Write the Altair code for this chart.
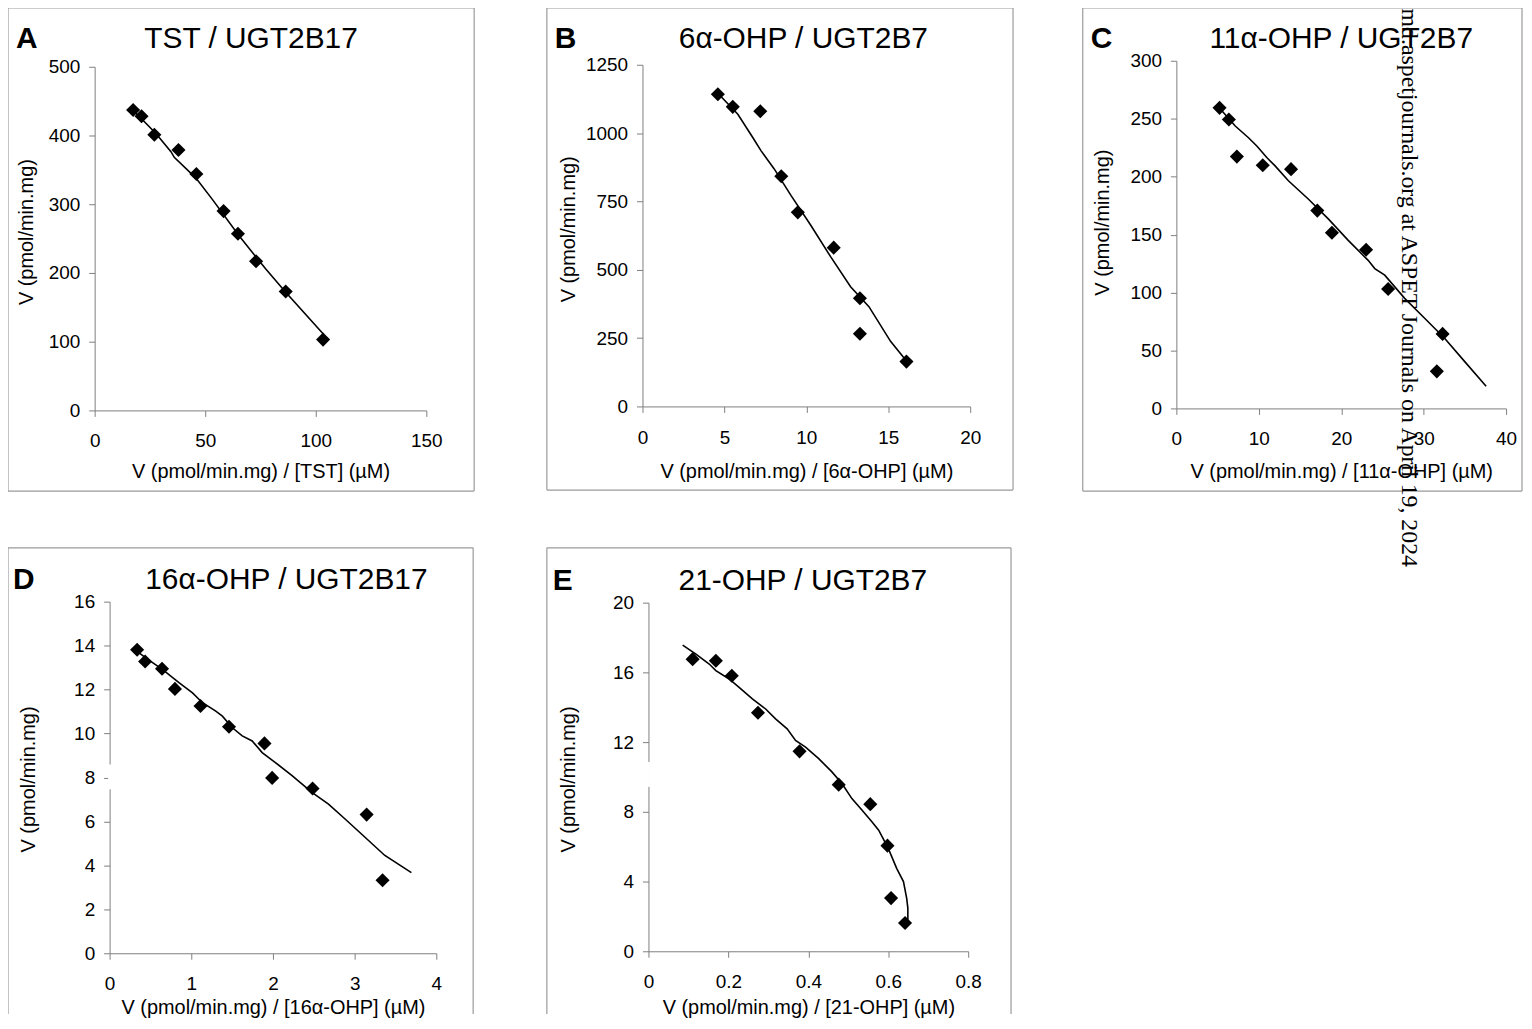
import altair as alt
import pandas as pd

FONT = "Liberation Sans"

# ---------------- data ----------------
# A  TST / UGT2B17
a_x = [17.4, 21.2, 27.0, 37.9, 46.0, 58.3, 64.8, 73.0, 86.4, 103.3]
a_y = [437, 428, 401, 379, 344, 290, 257, 217, 173, 103]
a_fit_x = [17.2, 27.7, 34.5, 36.0, 45.8, 53.3, 65.3, 77.3, 86.4, 103.7]
a_fit_y = [437.5, 403, 376.5, 368.3, 338, 306.7, 254, 206, 172, 110]

# B  6a-OHP / UGT2B7
b_x = [4.60, 5.51, 7.19, 8.47, 9.48, 11.67, 13.27, 13.27, 16.11]
b_y = [1142, 1096, 1080, 842, 710, 581, 396, 266, 164]
b_fit_x = [4.6, 5.82, 6.73, 7.23, 8.04, 9.06, 10.27, 11.49, 12.70, 13.82, 15.14, 16.05]
b_fit_y = [1146, 1069, 984, 936, 869, 772, 663, 547, 438, 365, 238, 171]

# C  11a-OHP / UGT2B7
c_x = [5.24, 6.37, 7.34, 10.48, 13.91, 17.10, 18.87, 23.02, 25.69, 32.3, 31.6]
c_y = [259.4, 249.4, 217.3, 209.9, 206.5, 170.7, 151.6, 137.0, 103.0, 64.3, 32.0]
c_fit_x = [5.12, 7.14, 8.75, 9.76, 10.97, 11.98, 13.59, 16.0, 18.43, 20.85, 23.27,
           24.07, 25.28, 27.7, 30.12, 32.54, 34.96, 37.58]
c_fit_y = [260.2, 243.7, 233.6, 226.5, 216.5, 209.3, 196.5, 180.7, 163.6, 145.0, 127.8,
           120.7, 115.0, 95.0, 77.8, 60.6, 40.6, 19.2]

# D  16a-OHP / UGT2B17
d_x = [0.337, 0.435, 0.642, 0.80, 1.113, 1.462, 1.896, 1.99, 2.485, 3.147, 3.342]
d_y = [13.81, 13.28, 12.95, 12.03, 11.25, 10.31, 9.55, 7.98, 7.50, 6.31, 3.32]
d_fit_x = [0.284, 0.447, 0.650, 0.853, 1.015, 1.137, 1.30, 1.381, 1.503, 1.624, 1.746,
           1.868, 2.03, 2.234, 2.477, 2.68, 2.883, 3.127, 3.37, 3.695]
d_fit_y = [13.89, 13.43, 12.91, 12.30, 11.85, 11.40, 11.02, 10.79, 10.26, 9.89, 9.66,
           9.13, 8.68, 8.08, 7.32, 6.79, 6.11, 5.28, 4.45, 3.67]
d_break = [7.46, 8.59]

# E  21-OHP / UGT2B7
e_x = [0.1105, 0.1686, 0.2085, 0.274, 0.378, 0.476, 0.555, 0.598, 0.607, 0.642]
e_y = [16.76, 16.67, 15.81, 13.68, 11.47, 9.56, 8.44, 6.06, 3.05, 1.62]
e_fit_x = [0.0856, 0.1188, 0.152, 0.1686, 0.2019, 0.2268, 0.26, 0.2933, 0.318, 0.347,
           0.368, 0.393, 0.426, 0.459, 0.484, 0.509, 0.534, 0.559, 0.576, 0.60, 0.621,
           0.638, 0.646, 0.649, 0.649]
e_fit_y = [17.56, 17.05, 16.48, 16.10, 15.62, 15.14, 14.48, 13.90, 13.33, 12.76,
           12.10, 11.71, 11.05, 10.29, 9.62, 8.76, 8.10, 7.43, 6.95, 5.90, 4.76,
           4.0, 3.05, 2.48, 1.81]
e_break = [9.43, 10.86]

Y_TITLE = "V (pmol/min.mg)"
WATERMARK = "md.aspetjournals.org at ASPET Journals on April 19, 2024"

FRAME_COLOR = "#9a9a9a"


def one():
    return alt.Chart(pd.DataFrame({"k": [0]}))


def text(txt, x, y, size, weight="normal", align="left", font=FONT,
         angle=0, baseline="alphabetic"):
    return alt.Chart(pd.DataFrame({"t": [txt]})).mark_text(
        align=align, baseline=baseline, fontSize=size, fontWeight=weight,
        font=font, angle=angle, color="black"
    ).encode(x=alt.value(x), y=alt.value(y), text="t:N")


def spacer(x1, x2, y1, y2):
    return one().mark_rect(fill="transparent").encode(
        x=alt.value(x1), x2=alt.value(x2), y=alt.value(y1), y2=alt.value(y2))


def panel(px, py, fx, fy, xdom, ydom, xticks, yticks, xtitle, letter, title, g,
          brk=None):
    """g holds page-pixel geometry read off the reference; converted to
    coordinates relative to the panel's layout origin (ox, oy)."""
    ox, oy = g["origin"]
    pl, pt, w, h = g["plot"]
    dx, dy = pl - ox, pt - oy
    W, H = dx + w, dy + h
    fl, fr, ft, fb = [v - o for v, o in zip(g["frame"], (ox, ox, oy, oy))]

    pts = pd.DataFrame({"x": px, "y": py})
    fit = pd.DataFrame({"x": fx, "y": fy, "i": list(range(len(fx)))})
    xax = alt.Axis(values=xticks, title=xtitle, grid=False, tickSize=6, format="~f",
                   labelPadding=g["xlp"], titleY=g["xbase"] - (pt + h),
                   titleBaseline="alphabetic", labelFlush=False, labelOverlap=False)
    yopts = dict(values=yticks, title=Y_TITLE, grid=False, tickSize=6, format="~f",
                 labelPadding=9, titleX=g["ytr"] - pl, titleY=g["ytc"] - oy,
                 titleAlign="center", titleBaseline="bottom",
                 labelFlush=False, labelOverlap=False)
    if dx:
        yopts["offset"] = -dx
    yax = alt.Axis(**yopts)
    xs = alt.Scale(domain=xdom, range=[dx, W], nice=False, zero=False)
    ys = alt.Scale(domain=ydom, range=[H, dy], nice=False, zero=False)

    def X(f):
        return alt.X(f, type="quantitative", scale=xs, axis=xax)

    def Y(f):
        return alt.Y(f, type="quantitative", scale=ys, axis=yax)

    st = dict(color=FRAME_COLOR, strokeWidth=1.2)
    layers = [
        one().mark_rule(**st).encode(x=alt.value(fl), x2=alt.value(fr), y=alt.value(ft)),
        one().mark_rule(**st).encode(x=alt.value(fl), y=alt.value(ft), y2=alt.value(fb)),
        one().mark_rule(**st).encode(x=alt.value(fr), y=alt.value(ft), y2=alt.value(fb)),
    ]
    if g.get("bottom", True):
        layers.append(one().mark_rule(**st).encode(
            x=alt.value(fl), x2=alt.value(fr), y=alt.value(fb)))

    layers.append(alt.Chart(fit).mark_line(color="black", strokeWidth=1.6).encode(
        x=X("x"), y=Y("y"), order="i:Q"))
    layers.append(alt.Chart(pts).mark_point(
        shape="diamond", filled=True, size=200, color="black", opacity=1
    ).encode(x=X("x"), y=Y("y")))
    if brk is not None:
        bd = pd.DataFrame({"lo": [brk[0]], "hi": [brk[1]]})
        layers.append(alt.Chart(bd).mark_rule(color="white", strokeWidth=3).encode(
            x=alt.value(dx), y=Y("lo"), y2=alt.Y2("hi")))
    lx, ly = g["letter"]
    tx, ty = g["title"]
    layers.append(text(letter, lx - ox, ly - oy, 30, weight="bold"))
    layers.append(text(title, tx - ox, ty - oy, 30, align="center"))
    if "spacer_r" in g:
        sr = g["spacer_r"] - ox
        layers.append(spacer(sr - 4, sr, 0, 10))
    if "spacer_b" in g:
        sb = g["spacer_b"] - oy
        layers.append(spacer(200, 204, 0, sb))
    if "watermark" in g:
        wx, wy = g["watermark"]
        layers.append(text(WATERMARK, wx - ox, wy - oy, 23.9, align="left",
                           font="Liberation Serif", angle=90, baseline="middle"))
    return alt.layer(*layers).properties(width=W, height=H)


gA = dict(origin=(95, 58), plot=(95, 64, 333, 345), frame=(8, 476, 5, 490),
          letter=(16, 45), title=(252, 45), ytr=37, ytc=229.5, xbase=476.5, xlp=14.8)
gB = dict(origin=(641, 58), plot=(641, 62, 329, 343), frame=(545, 1013, 5, 489),
          letter=(553, 45), title=(802.5, 45), ytr=576.7, ytc=226.7, xbase=476.5, xlp=16.5)
gC = dict(origin=(1176, 58), plot=(1176, 58, 331, 349), frame=(1082, 1523, 5, 490),
          letter=(1090, 45), title=(1341.5, 45), ytr=1111.7, ytc=220, xbase=476.5,
          xlp=15.5, watermark=(1410, 5.6), spacer_b=610)
gD = dict(origin=(95, 602), plot=(110, 602, 328, 353), frame=(8, 475, 548, 1016),
          bottom=False, letter=(13, 589), title=(287.5, 589), ytr=38.3, ytc=780,
          xbase=1015.5, xlp=15.8, spacer_r=480.4)
gE = dict(origin=(649, 603), plot=(649, 603, 321, 350), frame=(547, 1013, 548, 1016),
          bottom=False, letter=(553, 590), title=(804, 590), ytr=578.3, ytc=780,
          xbase=1015.5, xlp=15.5)

pA = panel(a_x, a_y, a_fit_x, a_fit_y, [0, 150], [0, 500], [0, 50, 100, 150],
           [0, 100, 200, 300, 400, 500], "V (pmol/min.mg) / [TST] (µM)",
           "A", "TST / UGT2B17", gA)
pB = panel(b_x, b_y, b_fit_x, b_fit_y, [0, 20], [0, 1250], [0, 5, 10, 15, 20],
           [0, 250, 500, 750, 1000, 1250], "V (pmol/min.mg) / [6α-OHP] (µM)",
           "B", "6α-OHP / UGT2B7", gB)
pC = panel(c_x, c_y, c_fit_x, c_fit_y, [0, 40], [0, 300], [0, 10, 20, 30, 40],
           [0, 50, 100, 150, 200, 250, 300], "V (pmol/min.mg) / [11α-OHP] (µM)",
           "C", "11α-OHP / UGT2B7", gC)
pD = panel(d_x, d_y, d_fit_x, d_fit_y, [0, 4], [0, 16], [0, 1, 2, 3, 4],
           [0, 2, 4, 6, 8, 10, 12, 14, 16], "V (pmol/min.mg) / [16α-OHP] (µM)",
           "D", "16α-OHP / UGT2B17", gD, brk=d_break)
pE = panel(e_x, e_y, e_fit_x, e_fit_y, [0, 0.8], [0, 20], [0, 0.2, 0.4, 0.6, 0.8],
           [0, 4, 8, 12, 16, 20], "V (pmol/min.mg) / [21-OHP] (µM)",
           "E", "21-OHP / UGT2B7", gE, brk=e_break)

chart = alt.concat(
    pA, pB, pC, pD, pE, columns=3, align="none", bounds="full",
    spacing={"row": -66, "column": 66}
).properties(
    padding={"top": -4, "left": -2, "right": 0, "bottom": 0}
).configure_view(
    stroke="transparent"
).configure_axis(
    labelFont=FONT, titleFont=FONT, labelFontSize=19, titleFontSize=20,
    titleFontWeight="normal", labelColor="black", titleColor="black",
    domainColor="#7f7f7f", tickColor="#7f7f7f", domainWidth=1, tickWidth=1
)

chart.save("out.html", embed_options={"renderer": "svg", "actions": False})
